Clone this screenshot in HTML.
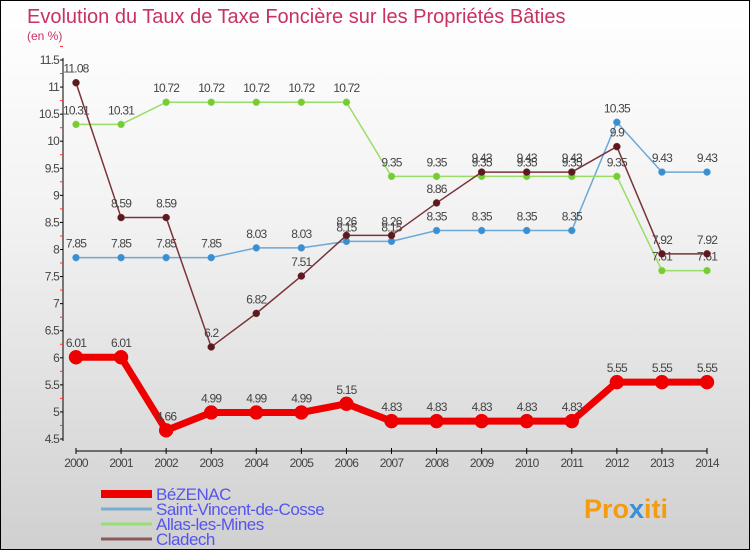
<!DOCTYPE html>
<html><head><meta charset="utf-8"><style>
body{margin:0}
#c{width:750px;height:550px;position:relative;box-sizing:border-box;border:1px solid #000;background:linear-gradient(#fff 0%,#f2f2f2 40%,#d0d0d0 100%);font-family:"Liberation Sans",sans-serif;overflow:hidden}
text{font-family:"Liberation Sans",sans-serif}
</style></head><body>
<div id="c">
<svg id="s" width="750" height="550">
<text x="26" y="22" font-size="20" fill="#c8325f">Evolution du Taux de Taxe Foncière sur les Propriétés Bâties</text>
<text x="26" y="39" font-size="12" fill="#c8325f">(en %)</text>
<text x="583" y="517" font-size="27" font-weight="bold" fill="#f39c12">Pro<tspan fill="#3a8fd8">x</tspan>iti</text>
</svg>
</div>
<script>
const years=[2000,2001,2002,2003,2004,2005,2006,2007,2008,2009,2010,2011,2012,2013,2014];
const yTicks=[4.5,5,5.5,6,6.5,7,7.5,8,8.5,9,9.5,10,10.5,11,11.5];
const bezenac=[6.01,6.01,4.66,4.99,4.99,4.99,5.15,4.83,4.83,4.83,4.83,4.83,5.55,5.55,5.55];
const saintVincent=[7.85,7.85,7.85,7.85,8.03,8.03,8.15,8.15,8.35,8.35,8.35,8.35,10.35,9.43,9.43];
const allas=[10.31,10.31,10.72,10.72,10.72,10.72,10.72,9.35,9.35,9.35,9.35,9.35,9.35,7.61,7.61];
const cladech=[11.08,8.59,8.59,6.2,6.82,7.51,8.26,8.26,8.86,9.43,9.43,9.43,9.9,7.92,7.92];
const names=["BéZENAC","Saint-Vincent-de-Cosse","Allas-les-Mines","Cladech"];
const NS="http://www.w3.org/2000/svg";
const svg=document.getElementById('s');
const x=i=>75+i*(631/14);
const y=v=>59+(11.5-v)*(379/7);
function mk(t,a){const e=document.createElementNS(NS,t);for(const k in a)e.setAttribute(k,a[k]);svg.appendChild(e);return e;}
let ax=mk('line',{x1:62,y1:57,x2:62,y2:440,stroke:'#000'});


yTicks.forEach(v=>{
 mk('line',{x1:59,x2:62,y1:y(v),y2:y(v),stroke:'#000'});
 mk('line',{x1:59,x2:62,y1:y(v+0.25),y2:y(v+0.25),stroke:'#f33'});
 let t=mk('text',{x:58,y:y(v)+4,'font-size':12,fill:'#444','text-anchor':'end','letter-spacing':'-0.8'});t.textContent=v;
 
 
});
let xa=mk('line',{x1:75,y1:450,x2:706,y2:450,stroke:'#000'});


years.forEach((yr,i)=>{
 mk('line',{x1:x(i),x2:x(i),y1:447,y2:453,stroke:'#000'});
 let t=mk('text',{x:x(i),y:466,'font-size':12,fill:'#444','text-anchor':'middle','letter-spacing':'-0.8'});t.textContent=yr;
 
 
});
function series(d,col,dot,w,r,name){
 let p=mk('polyline',{points:d.map((v,i)=>x(i)+','+y(v)).join(' '),fill:'none',stroke:col,'stroke-width':w});
 
 
 d.forEach((v,i)=>{
  let c=mk('circle',{cx:x(i),cy:y(v),r:r,fill:dot,stroke:col,'stroke-width':0.5});
  
  
  let t=mk('text',{x:x(i),y:y(v)-10,'font-size':12,fill:'#444','text-anchor':'middle','letter-spacing':'-0.8'});t.textContent=v;
  
  
 });
}
series(saintVincent,'#6aa8d8','#3a8fd0',1.5,3.5,'saint-vincent');
series(allas,'#99dd66','#77cc33',1.5,3.5,'allas');
series(cladech,'#7a3338','#5a1a20',1.5,3.5,'cladech');
series(bezenac,'#ee0000','#ee0000',7,7,'bezenac');
const lc=['#ee0000','#7aaed0','#99dd77','#8a5a5a'],lw=[8,3,3,3];
names.forEach((n,i)=>{
 let yy=493+i*15;
 let l=mk('line',{x1:100,x2:151,y1:yy,y2:yy,stroke:lc[i],'stroke-width':lw[i]});
 
 
 let t=mk('text',{x:155,y:yy+6,'font-size':17,fill:'#5555ee','letter-spacing':'-0.5'});t.textContent=n;
 
 
});
</script>
</body></html>
